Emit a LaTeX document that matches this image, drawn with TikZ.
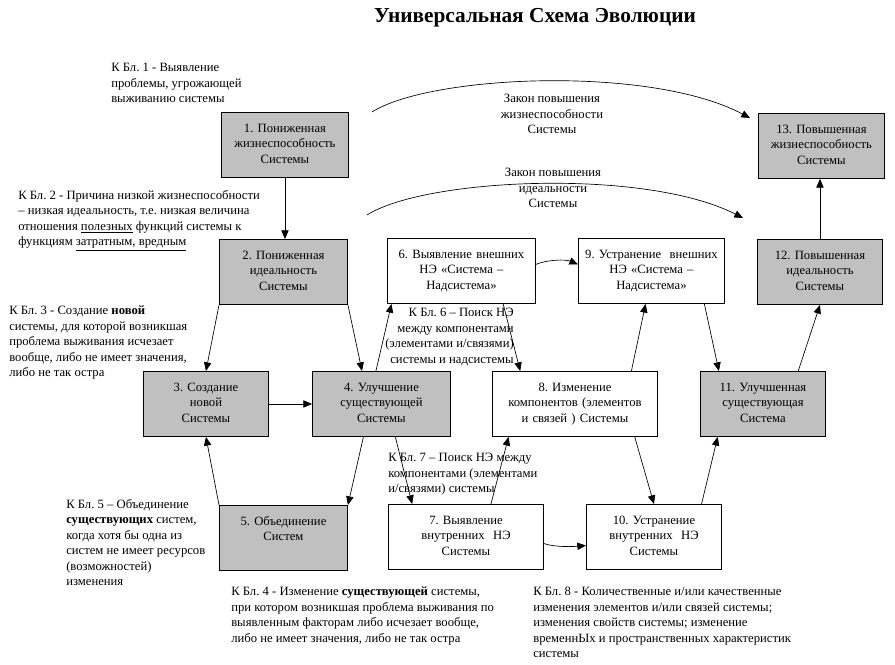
\documentclass[tikz,border=0pt]{standalone}
\usepackage{fontspec}
\setmainfont{Liberation Serif}
\usetikzlibrary{arrows.meta,calc}
\definecolor{boxgray}{RGB}{192,192,192}
\frenchspacing
\tikzset{
  blk/.style={draw, line width=0.7pt, anchor=north west, align=center,
    inner xsep=0pt, inner ysep=7pt, text height=8pt, text depth=26.75pt, text width=#1},
  gblk/.style={blk=#1, fill=boxgray},
  note/.style={align=left, inner sep=0pt, anchor=north west},
  conn/.style={-{Triangle[length=6.5pt,width=5.5pt]}, line width=0.5pt}
}
\begin{document}
\begin{tikzpicture}[x=0.75pt,y=0.75pt,yscale=-1,xscale=1,font=\fontsize{9.5}{11.6}\selectfont]
\useasboundingbox (0,0) rectangle (895,664);

% Text Node
\node[font=\bfseries\fontsize{16}{18}\selectfont] (title) at (535,18) {Универсальная Схема Эволюции};

%Shape: Rectangle (grey blocks)
\node[gblk=95.25pt] (b1) at (221,112) {1. Пониженная\\жизнеспособность\\Системы};
\node[gblk=96pt] (b2) at (219,239) {2. Пониженная\\идеальность\\Системы};
\node[gblk=93.75pt] (b3) at (143,371) {3. Создание\\новой\\Системы};
\node[gblk=103.5pt] (b4) at (312,371) {4. Улучшение\\существующей\\Системы};
\node[gblk=96pt] (b5) at (219,505) {5. Объединение\\Систем};
\node[gblk=93.75pt] (b11) at (700,371) {11. Улучшенная\\существующая\\Система};
\node[gblk=93.75pt] (b12) at (757,239) {12. Повышенная\\идеальность\\Системы};
\node[gblk=94.5pt] (b13) at (758,113) {13. Повышенная\\жизнеспособность\\Системы};

%Shape: Rectangle (white blocks)
\node[blk=111pt] (b6) at (387,238) {6. Выявление внешних\\НЭ «Система –\\Надсистема»};
\node[blk=116.25pt] (b7) at (388,504) {7. Выявление\\внутренних~ НЭ\\Системы};
\node[blk=123.75pt] (b8) at (492,371) {8. Изменение\\компонентов (элементов\\и связей ) Системы};
\node[blk=109.5pt] (b9) at (578,238) {9. Устранение~ внешних\\НЭ «Система –\\Надсистема»};
\node[blk=101.25pt] (b10) at (586,504) {10. Устранение\\внутренних~ НЭ\\Системы};

% Text Node (comments to blocks)
\node[note] (n1) at (111,63) {К Бл. 1 - Выявление\\проблемы, угрожающей\\выживанию системы};
\node[note] (n2) at (18,190) {К Бл. 2 - Причина низкой жизнеспособности\\– низкая идеальность, т.е. низкая величина\\отношения \underline{полезных} функций системы к\\функциям \underline{затратным, вредным}};
\node[note] (n3) at (9,306) {К Бл. 3 - Создание \textbf{новой}\\системы, для которой возникшая\\проблема выживания исчезает\\вообще, либо не имеет значения,\\либо не так остра};
\node[note, align=right, anchor=north east] (n6) at (514,308) {К Бл. 6 – Поиск НЭ\\между компонентами\\(элементами и/связями)\\системы и надсистемы};
\node[note] (n7) at (388,453) {К Бл. 7 – Поиск НЭ между\\компонентами (элементами\\и/связями) системы};
\node[note] (n5) at (66,499) {К Бл. 5 – Объединение\\\textbf{существующих} систем,\\когда хотя бы одна из\\систем не имеет ресурсов\\(возможностей)\\изменения};
\node[note] (n4) at (231,587) {К Бл. 4 - Изменение \textbf{существующей} системы,\\при котором возникшая проблема выживания по\\выявленным факторам либо исчезает вообще,\\либо не имеет значения, либо не так остра};
\node[note] (n8) at (533,587) {К Бл. 8 - Количественные и/или качественные\\изменения элементов и/или связей системы;\\изменения свойств системы; изменение\\временнЫх и пространственных характеристик\\системы};

% Text Node (laws)
\node[align=center] (law1) at (552,114) {Закон повышения\\жизнеспособности\\Системы};
\node[align=center] (law2) at (553,188) {Закон повышения\\идеальности\\Системы};

%Curve Lines
\coordinate (law1s) at (372,112);
\coordinate (law1e) at (750,118);
\draw[conn] (law1s) .. controls (430,75) and (650,65) .. (law1e);
\coordinate (law2s) at (367,215);
\coordinate (law2e) at (743,218);
\draw[conn] (law2s) .. controls (425,178) and (645,168) .. (law2e);

%Straight Lines
\draw[conn] (b1.south) -- (b1.south |- b2.north);
\draw[conn] (b2.south west) -- (b3.north);
\draw[conn] (b2.south east) -- ($(b4.north west)!.36!(b4.north east)$);
\draw[conn] (b3.east) -- (b4.west);
\draw[conn] ($(b4.north west)!.46!(b4.north east)$) -- ($(b6.south west)!.03!(b6.south east)$);
\draw[conn] ($(b4.south west)!.37!(b4.south east)$) -- (b5.north east);
\draw[conn] ($(b4.south west)!.6!(b4.south east)$) -- ($(b7.north west)!.155!(b7.north east)$);
\draw[conn] (b5.north west) -- (b3.south);
\draw[conn] ($(b6.south west)!.78!(b6.south east)$) -- ($(b8.north west)!.17!(b8.north east)$);
\draw[conn] ($(b7.north west)!.66!(b7.north east)$) -- ($(b8.south west)!.1!(b8.south east)$);
\draw[conn] ($(b8.north west)!.84!(b8.north east)$) -- ($(b9.south west)!.46!(b9.south east)$);
\draw[conn] ($(b8.south west)!.86!(b8.south east)$) -- (b10.north);
\draw[conn] ($(b9.south west)!.86!(b9.south east)$) -- ($(b11.north west)!.15!(b11.north east)$);
\draw[conn] ($(b10.north west)!.85!(b10.north east)$) -- ($(b11.south west)!.14!(b11.south east)$);
\draw[conn] ($(b11.north west)!.78!(b11.north east)$) -- (b12.south);
\draw[conn] (b12.north) -- (b12.north |- b13.south);

%Curve Lines (short)
\draw[conn] ($(b6.north east)!.4!(b6.south east)$) .. controls +(12,-5) and +(-12,-5) .. ($(b9.north west)!.4!(b9.south west)$);
\draw[conn] ($(b7.north east)!.6!(b7.south east)$) .. controls +(12,4) and +(-12,1) .. ($(b10.north west)!.63!(b10.south west)$);

\end{tikzpicture}
\end{document}
